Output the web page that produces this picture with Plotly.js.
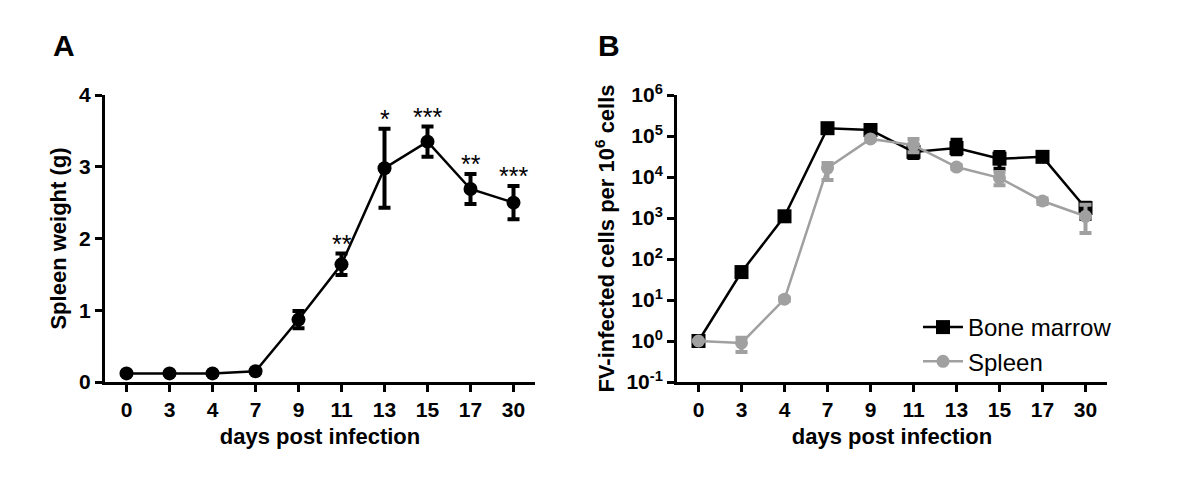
<!DOCTYPE html>
<html><head><meta charset="utf-8">
<script src="https://cdn.plot.ly/plotly-3.0.1.min.js"></script>
<style>html,body{margin:0;padding:0;background:#fff}#plot{width:1200px;height:497px}</style>
</head><body><div id="plot"></div>
<script>
// ---- data ----
const days = ['0','3','4','7','9','11','13','15','17','30'];
// Panel A: spleen weight (g)
const spleenWeight = [0.12, 0.12, 0.12, 0.15, 0.87, 1.64, 2.98, 3.35, 2.69, 2.50];
const spleenWeightErr = [0.02, 0.02, 0.02, 0.02, 0.12, 0.15, 0.55, 0.21, 0.21, 0.23];
const significance = ['', '', '', '', '', '**', '*', '***', '**', '***'];
// Panel B: FV-infected cells per 10^6 cells
const boneMarrow = [1, 48, 1100, 155000, 140000, 41000, 51000, 28000, 31000, 1750];
const boneMarrowErrUp = [0, 5, 100, 20000, 15000, 3000, 30000, 13000, 5000, 600];
const boneMarrowErrDown = [0, 5, 100, 20000, 15000, 12000, 15000, 12000, 5000, 800];
const spleen = [1, 0.9, 10.5, 16500, 85000, 60000, 17500, 9500, 2600, 1100];
const spleenErrUp = [0, 0.3, 1, 5500, 8000, 25000, 2000, 3700, 400, 1000];
const spleenErrDown = [0, 0.36, 1, 8000, 8000, 20000, 2000, 3200, 400, 670];
const logTickVals = [0.1, 1, 10, 100, 1000, 10000, 100000, 1000000];
const logTickText = ['10<sup>-1</sup>','10<sup>0</sup>','10<sup>1</sup>','10<sup>2</sup>','10<sup>3</sup>','10<sup>4</sup>','10<sup>5</sup>','10<sup>6</sup>'];

const W = 1200, H = 497;
const px = v => v / W, py = v => 1 - v / H;
const FONT = 'Liberation Sans, Arial, sans-serif';
const GRAY = '#a0a0a0';

const traces = [
  {
    x: days, y: spleenWeight, xaxis: 'x', yaxis: 'y', type: 'scatter', mode: 'lines+markers',
    line: {color: '#000', width: 2.5}, marker: {symbol: 'circle', size: 14, color: '#000'},
    error_y: {type: 'data', array: spleenWeightErr, visible: true, color: '#000', thickness: 4, width: 6},
    showlegend: false
  },
  {
    x: days, y: boneMarrow, xaxis: 'x2', yaxis: 'y2', type: 'scatter', mode: 'lines+markers', name: 'Bone marrow',
    line: {color: '#000', width: 2.5}, marker: {symbol: 'square', size: 14, color: '#000'},
    error_y: {type: 'data', symmetric: false, array: boneMarrowErrUp, arrayminus: boneMarrowErrDown, visible: true, color: '#000', thickness: 4, width: 6}
  },
  {
    x: days, y: spleen, xaxis: 'x2', yaxis: 'y2', type: 'scatter', mode: 'lines+markers', name: 'Spleen',
    line: {color: GRAY, width: 2.5}, marker: {symbol: 'circle', size: 13, color: GRAY},
    error_y: {type: 'data', symmetric: false, array: spleenErrUp, arrayminus: spleenErrDown, visible: true, color: GRAY, thickness: 4, width: 6}
  }
];

const annotations = [];
days.forEach((d, i) => {
  if (significance[i]) {
    annotations.push({x: i, y: spleenWeight[i] + spleenWeightErr[i], xref: 'x', yref: 'y',
      text: significance[i], showarrow: false, yanchor: 'bottom', yshift: -6,
      font: {family: FONT, size: 25, color: '#000'}});
  }
});
annotations.push({x: px(51), y: py(46), xref: 'paper', yref: 'paper', text: '<b>A</b>', showarrow: false,
  xanchor: 'left', yanchor: 'middle', font: {family: FONT, size: 30, color: '#000'}});
annotations.push({x: px(596), y: py(46), xref: 'paper', yref: 'paper', text: '<b>B</b>', showarrow: false,
  xanchor: 'left', yanchor: 'middle', font: {family: FONT, size: 30, color: '#000'}});

const tickFont = {family: FONT, size: 21, color: '#000', weight: 'bold'};
const titleFont = {family: FONT, size: 22, color: '#000', weight: 'bold'};
const axBase = {
  showline: true, linecolor: '#000', linewidth: 3, ticks: 'outside', ticklen: 7, tickwidth: 3,
  tickcolor: '#000', showgrid: false, zeroline: false, tickfont: tickFont, fixedrange: true
};

const layout = {
  width: W, height: H, margin: {l: 0, r: 0, t: 0, b: 0},
  paper_bgcolor: '#fff', plot_bgcolor: '#fff',
  font: {family: FONT, color: '#000'},
  xaxis: Object.assign({}, axBase, {domain: [px(105), px(535)], anchor: 'y', type: 'category',
    range: [-0.5, 9.5], title: {text: 'days post infection', font: titleFont, standoff: 9}}),
  yaxis: Object.assign({}, axBase, {domain: [py(382), py(95)], anchor: 'x', range: [0, 4],
    tickvals: [0, 1, 2, 3, 4], title: {text: 'Spleen weight (g)', font: titleFont, standoff: 7}}),
  xaxis2: Object.assign({}, axBase, {domain: [px(677), px(1107)], anchor: 'y2', type: 'category',
    range: [-0.5, 9.5], title: {text: 'days post infection', font: titleFont, standoff: 9}}),
  yaxis2: Object.assign({}, axBase, {domain: [py(382), py(95)], anchor: 'x2', type: 'log', range: [-1, 6],
    tickvals: logTickVals, ticktext: logTickText,
    title: {text: 'FV-infected cells per 10<sup>6</sup> cells', font: titleFont, standoff: 6}}),
  showlegend: true,
  legend: {x: px(918), y: py(305), xanchor: 'left', yanchor: 'top', bgcolor: 'rgba(0,0,0,0)',
    font: {family: FONT, size: 24, color: '#000'}, itemwidth: 40, tracegroupgap: 0},
  annotations: annotations
};

Plotly.newPlot('plot', traces, layout, {displayModeBar: false, staticPlot: true});
</script></body></html>
